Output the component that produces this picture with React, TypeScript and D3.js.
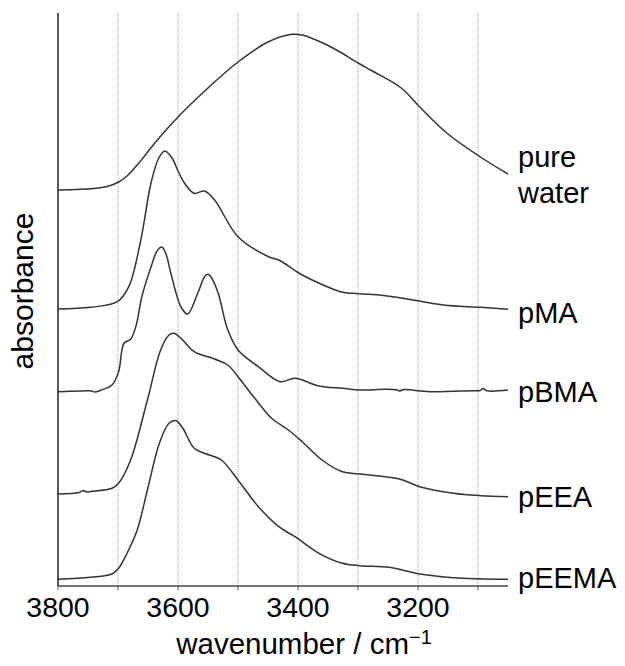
import React from "react";
import * as d3 from "d3";

// wavenumbers (cm^-1) and absorbance (offset, arbitrary units)
const waterWn = [3800, 3740, 3718, 3699, 3685, 3665, 3640, 3600, 3550, 3500, 3450, 3410, 3393, 3355, 3330, 3297, 3276, 3228, 3197, 3152, 3096, 3050];
const waterAbs = [3.96, 3.975, 3.995, 4.04, 4.1, 4.23, 4.42, 4.69, 4.98, 5.24, 5.44, 5.517, 5.51, 5.42, 5.34, 5.22, 5.15, 4.98, 4.79, 4.53, 4.29, 4.12];

const pmaWn = [3800, 3746, 3701, 3682, 3662, 3645, 3632, 3622, 3610, 3600, 3589, 3573, 3556, 3539, 3500, 3449, 3432, 3393, 3326, 3309, 3264, 3225, 3158, 3096, 3050];
const pmaAbs = [2.77, 2.787, 2.843, 2.993, 3.46, 4.03, 4.28, 4.35, 4.28, 4.15, 4.027, 3.927, 3.95, 3.86, 3.493, 3.293, 3.26, 3.11, 2.937, 2.927, 2.91, 2.877, 2.81, 2.787, 2.767];

const pbmaWn = [3800, 3760, 3746, 3738, 3730, 3710, 3699, 3690, 3679, 3670, 3660, 3645, 3635, 3627, 3620, 3612, 3595, 3584, 3567, 3555, 3550, 3545, 3533, 3522, 3517, 3500, 3466, 3430, 3405, 3365, 3326, 3297, 3255, 3236, 3231, 3225, 3180, 3110, 3096, 3092, 3085, 3050];
const pbmaAbs = [1.943, 1.95, 1.953, 1.94, 1.955, 2.01, 2.143, 2.427, 2.467, 2.6, 2.9, 3.19, 3.35, 3.39, 3.32, 3.13, 2.79, 2.72, 2.93, 3.1, 3.117, 3.09, 2.927, 2.66, 2.56, 2.36, 2.193, 2.043, 2.077, 2.0, 1.977, 1.96, 1.967, 1.962, 1.95, 1.963, 1.943, 1.953, 1.955, 1.975, 1.952, 1.96];

const peeaWn = [3800, 3765, 3758, 3752, 3745, 3710, 3699, 3679, 3651, 3629, 3615, 3607, 3595, 3573, 3539, 3517, 3498, 3472, 3444, 3416, 3393, 3360, 3326, 3297, 3231, 3197, 3141, 3096, 3050];
const peeaAbs = [0.92, 0.935, 0.955, 0.94, 0.945, 0.977, 1.027, 1.26, 1.86, 2.36, 2.51, 2.527, 2.477, 2.343, 2.27, 2.21, 2.077, 1.877, 1.677, 1.56, 1.443, 1.26, 1.143, 1.12, 1.07, 0.993, 0.927, 0.903, 0.893];

const peemaWn = [3800, 3746, 3710, 3699, 3685, 3668, 3651, 3631, 3615, 3603, 3592, 3573, 3556, 3528, 3498, 3466, 3432, 3405, 3365, 3326, 3297, 3248, 3197, 3141, 3050];
const peemaAbs = [0.067, 0.087, 0.12, 0.177, 0.327, 0.56, 0.96, 1.427, 1.627, 1.653, 1.577, 1.377, 1.327, 1.26, 1.043, 0.793, 0.593, 0.493, 0.327, 0.227, 0.203, 0.187, 0.12, 0.083, 0.067];

const seriesNames = ["pure water", "pMA", "pBMA", "pEEA", "pEEMA"];
const xTicks = [3800, 3600, 3400, 3200];
const gridTicks = [3700, 3600, 3500, 3400, 3300, 3200, 3100];
const minorTicks = [3800, 3700, 3600, 3500, 3400, 3300, 3200, 3100];

const W = 625;
const H = 666;
const left = 58;
const right = 508;
const top = 13;
const bottom = 586;
const font = "'Liberation Sans', Arial, sans-serif";

export default function App() {
  const x = d3.scaleLinear().domain([3800, 3050]).range([left, right]);
  const y = d3.scaleLinear().domain([0, 5.73]).range([bottom, top]);
  const line = d3
    .line<[number, number]>()
    .x((d) => x(d[0]))
    .y((d) => y(d[1]))
    .curve(d3.curveCatmullRom.alpha(0.5));

  const series = [
    { wn: waterWn, ab: waterAbs },
    { wn: pmaWn, ab: pmaAbs },
    { wn: pbmaWn, ab: pbmaAbs },
    { wn: peeaWn, ab: peeaAbs },
    { wn: peemaWn, ab: peemaAbs },
  ];

  const labelPos = [
    { lines: ["pure", "water"], y: [167, 203] },
    { lines: [seriesNames[1]], y: [323] },
    { lines: [seriesNames[2]], y: [402] },
    { lines: [seriesNames[3]], y: [507] },
    { lines: [seriesNames[4]], y: [588] },
  ];

  return (
    <svg
      width={W}
      height={H}
      style={{ position: "absolute", left: 0, top: 0, background: "#fff" }}
      fontFamily={font}
    >
      <rect width={W} height={H} fill="#fff" />
      {gridTicks.map((t) => (
        <line
          key={"g" + t}
          x1={x(t)}
          x2={x(t)}
          y1={top}
          y2={bottom}
          stroke="#a0a0a0"
          strokeWidth={1}
          strokeDasharray="1,1"
        />
      ))}
      {minorTicks.map((t) => (
        <line key={"t" + t} x1={x(t)} x2={x(t)} y1={bottom} y2={bottom + 4} stroke="#555" strokeWidth={1} />
      ))}
      <line x1={left} x2={left} y1={top} y2={bottom} stroke="#222" strokeWidth={1.5} />
      <line x1={left} x2={right} y1={bottom} y2={bottom} stroke="#444" strokeWidth={1.5} />
      {series.map((s, i) => (
        <path
          key={i}
          d={line(s.wn.map((w, j) => [w, s.ab[j]] as [number, number])) || ""}
          fill="none"
          stroke="#333"
          strokeWidth={1.5}
        />
      ))}
      {xTicks.map((t) => (
        <text key={"l" + t} x={x(t)} y={617} textAnchor="middle" fontSize={28.5} fill="#000">
          {t}
        </text>
      ))}
      {labelPos.map((l, i) =>
        l.lines.map((s, k) => (
          <text key={i + "-" + k} x={518} y={l.y[k]} fontSize={29} fill="#000">
            {s}
          </text>
        ))
      )}
      <text x={304} y={654} textAnchor="middle" fontSize={29.5} fill="#000">
        wavenumber / cm
        <tspan fontSize={20} dy={-10}>
          −1
        </tspan>
      </text>
      <text transform="translate(33,291) rotate(-90)" textAnchor="middle" fontSize={30} fill="#000">
        absorbance
      </text>
    </svg>
  );
}
